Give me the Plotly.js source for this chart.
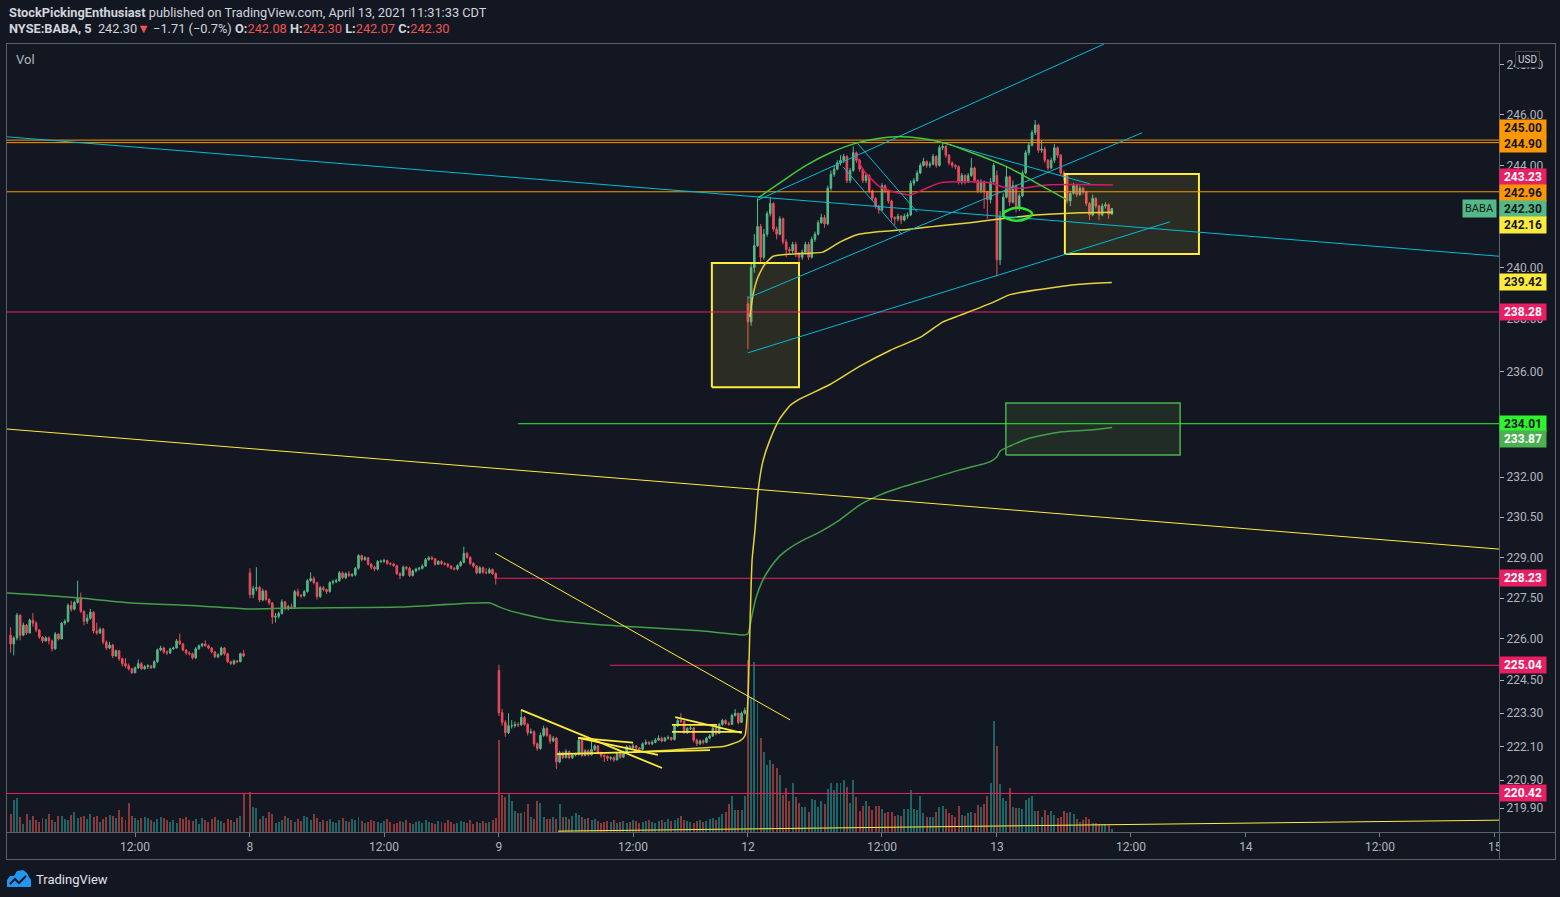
<!DOCTYPE html>
<html><head><meta charset="utf-8">
<script src="https://cdn.plot.ly/plotly-3.0.1.min.js"></script>
<style>html,body{margin:0;padding:0;background:#131722;}#chart{width:1560px;height:897px;}</style>
</head><body><div id="chart"></div>
<script>
// ---------------- DATA ----------------
// sessions (5-minute bars, 78 bars per session)
const sessionNames = ['7','8','9','12','13'];
const sessionStartBar = [0, 78, 156, 234, 312];
const sessionFirstBar = [3, 0, 0, 0, 0];
const sessionOpen = [226.14, 228.43, 224.85, 238.60, 243.60];

const close7 = [225.82,226.04,226.87,226.14,226.51,226.22,226.69,226.58,226.33,226.07,
 225.93,226.04,225.93,225.64,226.18,226.00,226.58,226.65,227.23,227.09,
 227.34,227.48,227.01,226.65,226.76,226.98,226.29,226.22,226.36,225.89,
 225.67,225.78,225.38,225.57,225.28,225.10,225.02,224.91,224.77,224.95,
 225.10,224.91,224.99,225.02,224.95,225.17,225.60,225.67,225.53,225.49,
 225.64,225.67,225.93,225.82,225.60,225.49,225.46,225.31,225.64,225.75,
 225.82,225.75,225.67,225.53,225.35,225.42,225.67,225.46,225.17,225.10,
 225.20,225.17,225.46,225.38];
const high7 = [226.43,226.10,226.95,226.90,226.60,226.55,226.75,226.95,226.65,226.35,
 226.10,226.10,226.10,225.98,226.25,226.20,226.62,226.72,227.30,227.40,
 227.40,228.14,227.70,227.05,226.90,227.10,227.02,226.60,226.42,226.40,
 225.95,225.90,225.82,225.62,225.60,225.32,225.30,225.10,224.95,225.00,
 225.25,225.15,225.05,225.08,225.05,225.22,225.65,225.75,225.72,225.58,
 225.68,225.72,226.00,226.20,225.85,225.62,225.55,225.50,225.70,225.80,
 225.85,225.95,225.80,225.70,225.55,225.48,225.72,225.70,225.50,225.20,
 225.25,225.24,225.50,225.60];
const low7 = [225.50,225.40,225.95,225.95,226.10,226.15,226.20,226.45,226.25,226.00,
 225.85,225.90,225.80,225.55,225.60,225.95,225.98,226.50,226.60,227.00,
 227.05,227.30,226.95,226.50,226.55,226.70,226.20,226.15,226.18,225.80,
 225.60,225.62,225.30,225.35,225.20,225.00,224.95,224.85,224.72,224.75,
 224.90,224.88,224.88,224.90,224.90,224.93,225.12,225.55,225.45,225.42,
 225.45,225.60,225.65,225.78,225.55,225.42,225.40,225.25,225.28,225.60,
 225.70,225.72,225.62,225.48,225.30,225.30,225.40,225.40,225.12,225.05,
 225.05,225.12,225.15,225.33];
const vol7 = [18,32,34,15,8,18,12,16,12,10, 14,13,18,12,10,16,16,13,12,17,
 20,14,15,16,13,18,15,16,10,13, 15,17,16,14,22,15,12,29,16,14,
 12,14,15,14,12,10,13,15,14,12, 10,12,9,14,13,15,12,11,13,8,
 14,12,10,13,15,12,11,9,13,12, 10,14,16,38];

const close8 = [227.63,227.85,227.89,227.43,227.76,227.45,227.32,226.80,226.83,226.93,
 227.36,227.14,227.18,227.16,227.74,227.60,227.58,227.74,228.14,228.22,
 228.07,227.56,227.88,227.81,227.74,228.07,228.10,228.14,228.43,228.25,
 228.40,228.33,228.36,228.60,229.07,228.92,228.99,228.75,228.64,228.57,
 228.85,228.86,228.88,228.78,228.76,228.70,228.40,228.33,228.64,228.60,
 228.33,228.50,228.57,228.60,228.68,228.92,228.99,228.95,228.75,228.85,
 228.78,228.75,228.68,228.60,228.57,228.70,228.82,229.15,229.00,228.78,
 228.68,228.43,228.62,228.45,228.43,228.55,228.40,228.23];
const high8 = [228.60,227.95,228.64,227.95,227.85,227.80,227.50,227.36,226.95,227.00,
 227.45,227.40,227.25,227.30,227.80,227.85,227.65,227.80,228.20,228.45,
 228.30,228.10,227.95,227.95,227.85,228.12,228.18,228.22,228.50,228.48,
 228.45,228.50,228.42,228.65,229.12,229.10,229.05,229.02,228.80,228.70,
 228.90,228.92,228.95,228.92,228.82,228.80,228.72,228.45,228.70,228.68,
 228.65,228.55,228.62,228.65,228.75,228.98,229.05,229.05,228.98,228.90,
 228.90,228.82,228.80,228.72,228.65,228.75,228.88,229.40,229.20,229.05,
 228.82,228.72,228.68,228.66,228.60,228.62,228.60,228.45];
const low8 = [227.50,227.50,227.75,227.35,227.38,227.40,227.25,226.55,226.60,226.75,
 226.90,227.05,227.05,227.10,227.10,227.55,227.50,227.55,227.70,228.10,
 228.00,227.45,227.50,227.75,227.65,227.70,228.00,228.05,228.10,228.20,
 228.20,228.28,228.28,228.30,228.55,228.85,228.88,228.70,228.55,228.50,
 228.52,228.80,228.80,228.72,228.70,228.65,228.35,228.20,228.30,228.52,
 228.28,228.30,228.45,228.52,228.55,228.65,228.88,228.90,228.70,228.72,
 228.72,228.70,228.62,228.55,228.52,228.52,228.65,228.78,228.95,228.72,
 228.62,228.38,228.40,228.40,228.38,228.40,228.35,228.00];
const vol8 = [40,25,24,13,16,14,20,18,9,10, 12,16,14,12,10,13,11,16,15,12,
 18,14,10,12,11,13,10,9,12,14, 11,10,13,12,15,11,9,10,12,11,
 10,9,11,13,10,8,9,11,10,12, 9,8,10,11,9,12,10,9,8,11,
 10,9,12,10,8,9,11,10,9,12, 8,10,9,11,9,10,12,14];

const close9 = [223.32,222.97,222.60,222.85,222.85,222.90,222.88,223.15,222.90,222.60,
 222.63,222.20,222.03,222.50,222.75,222.50,222.30,222.40,221.55,221.88,
 221.70,221.92,221.70,221.80,221.82,222.33,221.78,221.95,221.80,221.99,
 222.12,221.88,221.78,221.75,221.68,221.70,221.62,221.85,221.72,221.88,
 222.10,222.05,222.12,222.05,222.00,222.20,222.25,222.20,222.25,222.33,
 222.40,222.30,222.40,222.42,222.35,222.85,223.04,223.00,222.60,222.75,
 222.77,222.33,222.20,222.30,222.25,222.40,222.48,222.75,222.57,222.90,
 223.04,222.93,222.90,223.22,223.30,222.97,223.30,223.40];
const high9 = [225.06,223.45,223.05,223.30,223.05,223.00,222.98,223.40,223.20,222.95,
 222.75,222.68,222.25,222.60,222.85,222.80,222.55,222.48,222.45,221.95,
 221.92,222.00,221.95,221.85,221.88,222.40,222.38,222.00,222.00,222.35,
 222.18,222.15,221.92,221.82,221.78,221.75,221.75,221.90,221.88,221.95,
 222.15,222.15,222.20,222.15,222.08,222.25,222.35,222.30,222.32,222.40,
 222.50,222.45,222.45,222.50,222.45,222.92,223.10,223.30,223.05,222.80,
 222.85,222.80,222.38,222.35,222.35,222.45,222.55,222.82,222.78,222.95,
 223.10,223.08,223.00,223.28,223.45,223.32,223.36,223.50];
const low9 = [223.20,222.85,222.45,222.55,222.75,222.78,222.80,222.85,222.85,222.50,
 222.55,222.10,221.95,221.98,222.45,222.45,222.20,222.25,221.30,221.50,
 221.65,221.68,221.65,221.65,221.75,221.78,221.72,221.75,221.75,221.78,
 221.95,221.82,221.70,221.55,221.58,221.60,221.55,221.60,221.66,221.70,
 221.85,221.98,222.02,222.00,221.95,221.98,222.15,222.15,222.15,222.22,
 222.30,222.25,222.28,222.35,222.30,222.32,222.80,222.95,222.55,222.55,
 222.70,222.25,222.12,222.15,222.18,222.22,222.38,222.45,222.50,222.55,
 222.85,222.88,222.85,222.88,223.18,222.90,222.95,223.25];
const vol9 = [92,37,35,39,31,21,19,19,20,28, 15,13,31,29,15,13,13,15,13,28,
 15,15,13,16,19,17,15,13,14,12, 13,11,9,10,11,10,12,9,10,11,
 9,10,12,11,9,10,11,12,10,9, 11,12,10,13,11,12,14,16,12,11,
 10,9,11,12,10,11,13,14,12,15, 18,20,28,36,22,22,22,36];

const close12 = [237.90,240.00,240.85,241.60,240.40,241.30,242.10,242.50,241.50,241.30,
 241.90,241.00,240.70,240.65,240.90,240.55,240.40,240.60,240.90,240.40,
 241.10,241.30,241.75,241.95,241.70,243.10,243.65,243.85,244.10,244.20,
 244.35,243.40,243.80,244.50,244.20,243.85,243.40,243.60,243.00,242.70,
 242.40,242.25,243.20,243.00,242.60,241.95,241.90,242.00,241.85,242.00,
 242.05,243.30,243.40,243.70,244.00,244.15,244.00,244.05,244.35,244.00,
 244.70,244.75,244.40,244.10,244.00,243.95,243.35,243.60,243.35,243.60,
 243.90,243.40,243.00,243.35,242.95,242.65,243.35,244.00];
const high12 = [238.90,240.20,241.30,242.70,241.70,241.50,242.20,242.75,242.55,241.60,
 242.00,241.95,241.10,240.80,241.00,241.00,240.60,240.70,241.00,241.00,
 241.20,241.40,241.85,242.10,242.05,243.20,243.80,244.00,244.20,244.40,
 244.45,244.40,243.90,244.75,244.55,244.25,243.90,243.70,243.65,243.05,
 242.75,242.45,243.30,243.25,243.05,242.65,242.00,242.10,242.05,242.10,
 242.15,243.40,243.50,243.80,244.10,244.30,244.20,244.15,244.45,244.40,
 244.80,244.90,244.80,244.45,244.15,244.05,244.00,243.70,243.65,243.70,
 244.30,243.95,243.45,243.45,243.40,243.00,243.50,244.10];
const low12 = [236.85,237.75,239.80,240.80,240.20,240.30,241.20,242.00,241.40,241.10,
 241.25,240.90,240.40,240.50,240.55,240.40,239.95,240.30,240.50,240.30,
 240.35,241.00,241.25,241.70,241.55,241.65,243.00,243.55,243.80,244.00,
 244.10,243.30,243.30,243.75,244.10,243.75,243.30,243.30,242.90,242.60,
 242.30,242.10,242.20,242.90,242.50,241.80,241.65,241.80,241.70,241.80,
 241.90,242.00,243.20,243.35,243.65,243.95,243.90,243.90,244.00,243.90,
 243.95,244.60,244.30,244.00,243.90,243.85,243.25,243.25,243.25,243.30,
 243.55,243.30,242.90,242.90,242.30,241.90,242.50,243.30];
const vol12 = [172,135,170,129,94,80,67,72,68,64, 57,37,44,31,49,35,29,25,25,20,
 33,32,25,31,28,43,49,42,49,49, 52,45,29,52,35,21,26,31,26,22,
 26,26,23,19,20,20,16,17,16,23, 23,42,23,22,36,19,15,15,15,20,
 25,26,23,19,17,15,26,17,16,19, 20,19,27,25,28,36,49,111];

const close13 = [240.30,242.00,242.75,243.55,242.55,243.20,242.30,242.80,243.70,244.50,
 244.80,245.30,245.60,244.60,244.65,244.20,243.90,244.20,244.70,244.40,
 243.70,243.60,242.60,242.90,243.20,242.85,243.10,242.95,242.50,242.05,
 242.70,242.40,242.05,242.40,242.45,242.08,242.30];
const high13 = [243.80,242.20,242.90,243.95,243.60,243.40,243.25,242.90,243.80,244.60,
 244.90,245.40,245.80,245.65,245.00,244.75,244.25,244.30,244.85,244.75,
 244.45,243.80,243.65,243.00,243.30,243.25,243.20,243.15,243.00,242.55,
 242.85,242.75,242.45,242.50,242.55,242.50,242.30];
const low13 = [239.65,240.10,241.90,242.70,242.40,242.50,242.15,242.20,242.75,243.65,
 244.40,244.75,245.20,244.50,244.50,244.10,243.80,243.85,244.10,244.30,
 243.60,243.40,242.50,242.40,242.85,242.75,242.80,242.85,242.40,241.85,
 242.00,242.30,241.85,242.00,242.30,241.90,242.07];
const vol13 = [86,48,34,31,44,25,24,24,23,32, 34,36,21,21,15,22,17,21,17,14,
 15,21,19,20,18,13,10,12,15,13, 9,9,8,8,8,7,3];

// indicator lines (bar index, price)
const maGreenBar = [1.9,12.2,24.7,41.4,62.3,77.1,93.7,125.0,153.2,155.4,159.5,172.0,187.7,203.3,219.0,233.1,234.0,235.3,236.5,238.4,240.9,244.0,247.2,250.3,256.6,262.8,269.1,275.4,281.6,287.9,300.4,309.8,312.0,313.0,316.1,322.4,331.8,341.2,348.1];
const maGreenVal = [227.69,227.61,227.50,227.32,227.21,227.10,227.14,227.17,227.32,227.21,227.03,226.70,226.52,226.41,226.30,226.15,226.19,226.88,227.50,228.10,228.61,229.06,229.36,229.58,229.95,230.40,230.96,231.33,231.60,231.82,232.27,232.57,232.76,232.98,233.17,233.47,233.70,233.77,233.87];
const vwapLowBar = [198.0,209.6,219.0,226.2,231.5,233.1,234.0,234.6,235.3,236.2,237.2,238.7,240.9,244.0,247.2,250.3,259.7,269.1,278.5,287.9,295.1,300.4,310.8,316.1,325.5,338.0,348.0];
const vwapLowVal = [221.90,221.97,222.05,222.10,222.30,222.50,223.80,226.30,228.90,230.00,231.50,232.60,233.40,234.20,234.70,234.95,235.50,236.20,236.80,237.30,237.90,238.15,238.65,238.95,239.15,239.35,239.42];
const vwapHighBar = [234.6,235.6,236.8,237.8,239.3,241.9,247.2,253.4,257.5,262.8,268.2,275.4,283.8,294.2,303.6,310.8,316.1,325.5,338.0,348.4];
const vwapHighVal = [238.09,238.94,239.52,239.80,240.13,240.44,240.52,240.56,240.60,240.99,241.28,241.40,241.48,241.63,241.75,241.86,241.94,242.06,242.14,242.16];
const maRedBar = [268.2,270.1,275.4,280.7,284.8,290.1,294.2,302.6,309.8,315.2,320.2,327.7,348.4];
const maRedVal = [244.33,243.82,243.15,242.92,242.84,243.11,243.31,243.35,243.31,243.11,243.11,243.23,243.23];

// drawings
const levelPrice = [245.00, 244.90, 242.96, 238.28, 234.01, 228.23, 225.04, 220.42];
const levelFromBar = [0, 0, 0, 0, 162, 155.4, 190.8, 0];
const cyanLines = [ // [bar0, price0, bar1, price1]
 [1.88,245.13,469.3,240.44],
 [237.2,242.64,345.6,248.84],
 [234.0,238.82,357.5,245.29],
 [234.0,236.71,366.2,241.78],
 [263.8,243.94,282.3,241.28],
 [268.2,244.89,287.0,242.17],
 [295.1,244.89,341.2,243.27]];
const yellowLines = [
 [1.88,233.81,469.3,229.31],
 [154.8,229.16,247.2,223.06],
 [174.5,219.08,469.3,219.47],
 [162.9,223.42,207.1,221.33],
 [180.8,222.41,205.8,221.80],
 [174.2,221.83,222.1,221.97],
 [180.8,222.41,198.0,222.24],
 [211.2,223.16,232.1,222.59],
 [210.2,222.88,224.3,222.88],
 [210.2,222.63,232.1,222.63]];
const arcBar = [237.2,244.0,252.5,259.7,268.2,280.7,294.2,303.6,315.2,325.5,334.0];
const arcVal = [242.72,243.31,244.02,244.49,244.89,245.13,244.93,244.53,243.94,243.23,242.64];
const loopBar = [313.9,318.3,323.0,318.3,313.9];
const loopVal = [242.06,242.33,242.10,241.82,242.06];
const yellowBoxes = [[222.7,235.40,250.0,240.18],[333.3,240.53,375.3,243.66]];
const greenBoxes = [[314.8,232.83,369.4,234.80]];

const labelValues = [245.00,244.90,243.23,242.96,242.30,242.16,239.42,238.28,234.01,233.87,228.23,225.04,220.42];
const xTickBars = [42,78,120,156,198,234,276,312,354,390,432,468];
const xTickText = ['12:00','8','12:00','9','12:00','12','12:00','13','12:00','14','12:00','15'];
const yTickVals = [219.9,220.9,222.1,223.3,224.5,226,227.5,229,230.5,232,236,238,240,244,246,248];

// ---------------- BUILD ----------------
const closes=[close7,close8,close9,close12,close13], highs=[high7,high8,high9,high12,high13],
      lows=[low7,low8,low9,low12,low13], vols=[vol7,vol8,vol9,vol12,vol13];
const X=[],O=[],H=[],L=[],C=[],V=[],VC=[];
for(let s=0;s<5;s++){
  for(let i=0;i<closes[s].length;i++){
    const o = i===0 ? sessionOpen[s] : closes[s][i-1];
    const c = closes[s][i];
    X.push(sessionStartBar[s]+sessionFirstBar[s]+i);
    O.push(o); C.push(c); H.push(Math.max(highs[s][i],o,c)); L.push(Math.min(lows[s][i],o,c));
    V.push(vols[s][i]);
    VC.push(c>=o ? 'rgba(38,166,154,0.55)' : 'rgba(239,83,80,0.55)');
  }
}
const UP='#53b987', DN='#eb4d5c';
const CYAN='#00bcd4', YEL='#ffeb3b', ORG='#ff9800', PINK='#e91e63';
const X0=1.88, X1=469.3;
const traces=[];
traces.push({type:'bar',x:X,y:V,marker:{color:VC,line:{width:0}},width:0.62,xaxis:'x',yaxis:'y',hoverinfo:'skip',showlegend:false});
function ln(xs,ys,color,width,extra){return Object.assign({type:'scatter',mode:'lines',x:xs,y:ys,line:{color:color,width:width},xaxis:'x',yaxis:'y2',hoverinfo:'skip',showlegend:false},extra||{});}
// boxes
yellowBoxes.forEach(b=>traces.push(ln([b[0],b[2],b[2],b[0],b[0]],[b[1],b[1],b[3],b[3],b[1]],YEL,2,{fill:'toself',fillcolor:'rgba(255,235,59,0.10)'})));
greenBoxes.forEach(b=>traces.push(ln([b[0],b[2],b[2],b[0],b[0]],[b[1],b[1],b[3],b[3],b[1]],'#4caf50',1.5,{fill:'toself',fillcolor:'rgba(139,195,74,0.12)'})));
traces.push({type:'candlestick',x:X,open:O,high:H,low:L,close:C,xaxis:'x',yaxis:'y2',hoverinfo:'skip',showlegend:false,
  increasing:{line:{color:UP,width:1},fillcolor:UP},decreasing:{line:{color:DN,width:1},fillcolor:DN},whiskerwidth:0});
// level lines
const levelColor=[ORG,ORG,ORG,PINK,'#2cf52c',PINK,PINK,PINK];
levelPrice.forEach((p,k)=>traces.push(ln([levelFromBar[k],X1+2],[p,p],levelColor[k],1)));
// indicators
traces.push(ln(maGreenBar,maGreenVal,'#43a047',1.5,{line:{color:'#43a047',width:1.5,shape:'spline',smoothing:0.6}}));
traces.push(ln(vwapLowBar,vwapLowVal,YEL,1.5,{line:{color:'#e6d33a',width:1.5,shape:'spline',smoothing:0.5}}));
traces.push(ln(vwapHighBar,vwapHighVal,YEL,1.5,{line:{color:'#e6d33a',width:1.5,shape:'spline',smoothing:0.5}}));
traces.push(ln(maRedBar,maRedVal,PINK,1.5,{line:{color:'#d81b60',width:1.5,shape:'spline',smoothing:0.6}}));
// trendlines
cyanLines.forEach(l=>traces.push(ln([l[0],l[2]],[l[1],l[3]],CYAN,1)));
yellowLines.forEach((l,k)=>traces.push(ln([l[0],l[2]],[l[1],l[3]],YEL,k<3?1:1.8)));
traces.push(ln(arcBar,arcVal,'#44c93a',1.5,{line:{color:'#44c93a',width:1.5,shape:'spline'}}));
traces.push(ln(loopBar,loopVal,'#2ee62e',2,{line:{color:'#2ee62e',width:2.5,shape:'spline',smoothing:1.3}}));

// ---------------- LAYOUT ----------------
const W=1560,HH=897, PL=7, PR=1499, PT=44, PB=832;
const px=x=>(x-PL)/(PR-PL), py=y=>(PB-y)/(PB-PT);
const FONT='Roboto, "Open Sans", sans-serif';
const frame='#5d606b';
const shapes=[
 {type:'rect',xref:'paper',yref:'paper',x0:px(1500),x1:px(1556),y0:py(833),y1:py(859),fillcolor:'#131722',line:{width:0},layer:'above'},
 {type:'line',xref:'paper',yref:'paper',x0:px(6),x1:px(1556),y0:py(43.5),y1:py(43.5),line:{color:frame,width:1},layer:'above'},
 {type:'line',xref:'paper',yref:'paper',x0:px(6),x1:px(1556),y0:py(832.5),y1:py(832.5),line:{color:frame,width:1},layer:'above'},
 {type:'line',xref:'paper',yref:'paper',x0:px(6),x1:px(1556),y0:py(859.5),y1:py(859.5),line:{color:frame,width:1},layer:'above'},
 {type:'line',xref:'paper',yref:'paper',x0:px(6.5),x1:px(6.5),y0:py(43),y1:py(860),line:{color:frame,width:1},layer:'above'},
 {type:'line',xref:'paper',yref:'paper',x0:px(1499.5),x1:px(1499.5),y0:py(43),y1:py(860),line:{color:frame,width:1},layer:'above'},
 {type:'line',xref:'paper',yref:'paper',x0:px(1555.5),x1:px(1555.5),y0:py(43),y1:py(860),line:{color:frame,width:1},layer:'above'},
];
// TradingView logo
function pth(pts){return 'M'+pts.map(p=>px(p[0]).toFixed(5)+','+py(p[1]).toFixed(5)).join(' L')+' Z';}
shapes.push({type:'path',xref:'paper',yref:'paper',path:pth([[7,887],[7,880],[10,876],[14,876],[17,871],[23,870],[27,873],[29,877],[31,880],[31,887]]),fillcolor:'#2196f3',line:{width:0},layer:'above'});
shapes.push({type:'path',xref:'paper',yref:'paper',path:'M'+px(10)+','+py(884)+' L'+px(15)+','+py(879)+' L'+px(19)+','+py(883)+' L'+px(26)+','+py(876),line:{color:'#131722',width:2},layer:'above'});

const labelStyle=[
 {bg:ORG,fg:'#131722',dy:12},{bg:ORG,fg:'#131722',dy:-1},{bg:PINK,fg:'#ffffff',dy:8},{bg:ORG,fg:'#131722',dy:-1},
 {bg:'#53b987',fg:'#131722',dy:0},{bg:YEL,fg:'#131722',dy:-13},{bg:YEL,fg:'#131722',dy:0},{bg:PINK,fg:'#ffffff',dy:0},
 {bg:'#2cf52c',fg:'#131722',dy:0},{bg:'#4caf50',fg:'#ffffff',dy:-12},{bg:PINK,fg:'#ffffff',dy:0},{bg:PINK,fg:'#ffffff',dy:0},{bg:PINK,fg:'#ffffff',dy:0}];
const ann=[];
labelValues.forEach((v,k)=>{const s=labelStyle[k];
  ann.push({xref:'paper',yref:'y2',x:1,y:Math.log10(v),xanchor:'left',yanchor:'middle',yshift:s.dy,text:'<b>'+v.toFixed(2)+'</b>',
   showarrow:false,bgcolor:s.bg,font:{family:FONT,size:12,color:s.fg},width:44,height:14,borderpad:1,align:'center'});});
ann.push({xref:'paper',yref:'y2',x:px(1497),y:Math.log10(242.30),xanchor:'right',yanchor:'middle',text:'BABA',showarrow:false,bgcolor:'#53b987',font:{family:FONT,size:11,color:'#131722'},borderpad:2});
ann.push({xref:'paper',yref:'paper',x:px(1527),y:py(59),xanchor:'center',yanchor:'middle',text:'USD',showarrow:false,bgcolor:'#131722',bordercolor:'#434651',borderwidth:1,borderpad:2,font:{family:FONT,size:10,color:'#d1d4dc'}});
ann.push({xref:'paper',yref:'paper',x:px(7),y:py(12),xanchor:'left',yanchor:'middle',showarrow:false,
  text:'<b>StockPickingEnthusiast</b> published on TradingView.com, April 13, 2021 11:31:33 CDT',font:{family:FONT,size:12.8,color:'#d1d4dc'}});
const RED='#ef5350';
ann.push({xref:'paper',yref:'paper',x:px(7),y:py(29),xanchor:'left',yanchor:'middle',showarrow:false,
  text:'<b>NYSE:BABA, 5</b>  242.30<span style="color:'+RED+'">▼</span> −1.71 (−0.7%) <b>O:</b><span style="color:'+RED+'">242.08</span> <b>H:</b><span style="color:'+RED+'">242.30</span> <b>L:</b><span style="color:'+RED+'">242.07</span> <b>C:</b><span style="color:'+RED+'">242.30</span>',
  font:{family:FONT,size:12.8,color:'#d1d4dc'}});
ann.push({xref:'paper',yref:'paper',x:px(14),y:py(60),xanchor:'left',yanchor:'middle',showarrow:false,text:'Vol',font:{family:FONT,size:13,color:'#b2b5be'}});
ann.push({xref:'paper',yref:'paper',x:px(34),y:py(879),xanchor:'left',yanchor:'middle',showarrow:false,text:'TradingView',font:{family:FONT,size:13,color:'#e0e3eb'}});

const yBot=219.05, yTop=248.84;
const layout={
  width:W,height:HH,margin:{l:PL,r:W-PR,t:PT,b:HH-PB,pad:0},
  paper_bgcolor:'#131722',plot_bgcolor:'#131722',hovermode:false,showlegend:false,dragmode:false,
  font:{family:FONT,color:'#b2b5be',size:12},
  xaxis:{range:[X0,X1],showgrid:false,zeroline:false,showline:false,rangeslider:{visible:false},
    tickmode:'array',tickvals:xTickBars,ticktext:xTickText,ticks:'outside',ticklen:4,tickcolor:'#787b86',
    tickfont:{family:FONT,size:12,color:'#b2b5be'},fixedrange:true},
  yaxis:{range:[0,PB-PT],visible:false,showgrid:false,zeroline:false,fixedrange:true},
  yaxis2:{overlaying:'y',side:'right',type:'log',range:[Math.log10(yBot),Math.log10(yTop)],showgrid:false,zeroline:false,showline:false,
    tickmode:'array',tickvals:yTickVals,ticktext:yTickVals.map(v=>v.toFixed(2)),ticks:'outside',ticklen:4,tickcolor:'#b2b5be',
    tickfont:{family:FONT,size:12,color:'#b2b5be'},fixedrange:true},
  shapes:shapes,annotations:ann,bargap:0
};
Plotly.newPlot('chart',traces,layout,{displayModeBar:false,staticPlot:true});
</script></body></html>
